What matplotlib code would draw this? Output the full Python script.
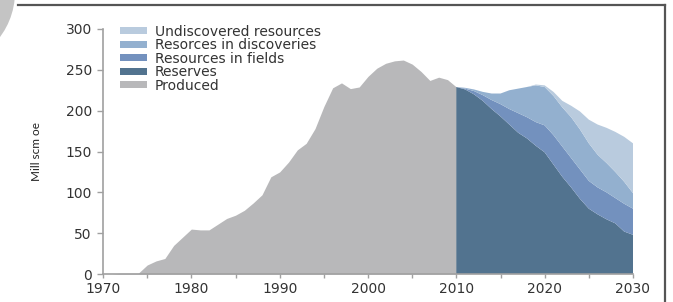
import matplotlib
matplotlib.use("Agg")
import matplotlib.pyplot as plt
import matplotlib.patches as mpatches
from matplotlib.lines import Line2D
from matplotlib.transforms import IdentityTransform

# Historisk produksjon 1970-2010
anos_hist = list(range(1970, 2011))
produzido = [0, 0, 1, 1, 1, 11, 16, 19, 35, 45,
             55, 54, 54, 61, 68, 72, 78, 87, 97, 119,
             125, 137, 152, 160, 178, 205, 228, 234, 227, 229,
             242, 252, 258, 261, 262, 257, 248, 237, 241, 238,
             229]

# Prognose 2010-2030, lag stablet oppå hverandre
anos_prog = list(range(2010, 2031))
reservas = [229, 226, 220, 212, 202, 193, 183, 173, 166, 157,
            149, 134, 119, 106, 92, 80, 73, 67, 62, 52, 48]
campos = [0, 1, 4, 7, 11, 15, 19, 24, 26, 29,
          33, 36, 37, 36, 36, 34, 33, 33, 31, 34, 32]
descobertas = [0, 1, 2, 4, 8, 13, 23, 30, 37, 45,
               47, 48, 48, 50, 49, 46, 40, 36, 32, 27, 19]
nao_descobertos = [0, 0, 0, 0, 0, 0, 0, 0, 0, 1,
                   2, 5, 8, 14, 22, 29, 37, 43, 49, 55, 61]

rotulos = ["Reserves", "Resources in fields", "Resorces in discoveries",
           "Undiscovered resources"]
cores = ["#52738f", "#7391be", "#93b0cf", "#b9cbde"]
cor_produzido = "#b8b8ba"

fig = plt.figure(figsize=(6.73, 3.02), dpi=100)
ax = fig.add_axes([103 / 673, 28 / 302, 530 / 673, 245 / 302])

area_prod = ax.fill_between(anos_hist, produzido, color=cor_produzido, lw=0,
                            label="Produced")
camadas = ax.stackplot(anos_prog, reservas, campos, descobertas, nao_descobertos,
                       colors=cores, labels=rotulos, lw=0)

ax.set_xlim(1970, 2030)
ax.set_ylim(0, 300)
ax.set_xticks(range(1970, 2031, 10))
ax.set_xticks(range(1970, 2031, 5), minor=True)
ax.set_yticks(range(0, 301, 50))

for lado in ["top", "right"]:
    ax.spines[lado].set_visible(False)
for lado in ["left", "bottom"]:
    ax.spines[lado].set_color("#a0a0a0")
    ax.spines[lado].set_linewidth(1.2)

ax.tick_params(axis="both", which="both", color="#a0a0a0", width=1,
               labelcolor="#333333", labelsize=10)
ax.tick_params(axis="y", length=4, pad=4)
ax.tick_params(axis="x", which="both", length=3, pad=2.5)

ax.set_ylabel("Mill scm oe", family="Lato", fontsize=8.5, color="#222222",
              labelpad=17)

handles = list(reversed(camadas)) + [area_prod]
ax.legend(handles=handles, loc="upper left", bbox_to_anchor=(0.032, 1.017),
          frameon=False, borderpad=0, borderaxespad=0, fontsize=10,
          handlelength=1.95, handleheight=0.38, handletextpad=0.55,
          labelspacing=-0.04)
for txt in ax.get_legend().get_texts():
    txt.set_color("#333333")

# moldura da imagem
fig.add_artist(mpatches.Circle((-60, 310), 75, transform=IdentityTransform(),
                               facecolor="#c4c4c4", edgecolor="none"))
fig.add_artist(Line2D([18, 665], [297, 297], transform=IdentityTransform(),
                      color="#555555", lw=1.6))
fig.add_artist(Line2D([665, 665], [0, 297], transform=IdentityTransform(),
                      color="#555555", lw=1.6))

fig.savefig("out.png", dpi=100)
